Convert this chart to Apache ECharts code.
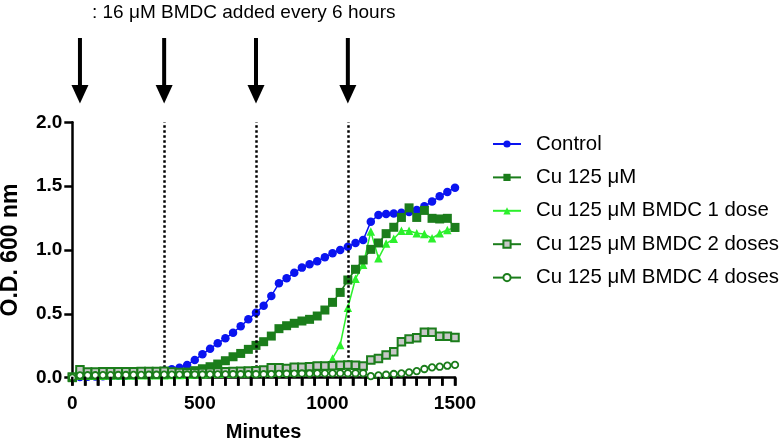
<!DOCTYPE html>
<html>
<head>
<meta charset="utf-8">
<script src="https://cdn.jsdelivr.net/npm/echarts@6/dist/echarts.min.js"></script>
<style>
html,body{margin:0;padding:0;background:#fff;}
#chart{width:780px;height:440px;}
</style>
</head>
<body>
<div id="chart"></div>
<script>
// ---- data ----
var times = [0,30,60,90,120,150,180,210,240,270,300,330,360,390,420,450,480,510,540,570,600,630,660,690,720,750,780,810,840,870,900,930,960,990,1020,1050,1080,1110,1140,1170,1200,1230,1260,1290,1320,1350,1380,1410,1440,1470,1500];

var control = [0.0,0.005,0.007,0.01,0.012,0.014,0.016,0.018,0.02,0.027,0.034,0.045,0.055,0.066,0.078,0.1,0.139,0.183,0.227,0.269,0.308,0.352,0.403,0.457,0.509,0.564,0.64,0.739,0.778,0.822,0.862,0.888,0.911,0.943,0.974,1.0,1.026,1.055,1.078,1.222,1.274,1.282,1.285,1.292,1.298,1.313,1.342,1.379,1.42,1.454,1.488];

var cu125 = [0.0,0.02,0.022,0.022,0.023,0.023,0.024,0.024,0.025,0.025,0.026,0.027,0.028,0.03,0.035,0.044,0.055,0.07,0.086,0.107,0.133,0.164,0.19,0.222,0.253,0.282,0.326,0.384,0.407,0.426,0.444,0.457,0.483,0.53,0.59,0.668,0.765,0.849,0.922,1.005,1.055,1.128,1.178,1.255,1.33,1.255,1.31,1.248,1.243,1.248,1.177];

var dose1 = [0.0,0.015,0.015,0.016,0.016,0.017,0.017,0.018,0.018,0.019,0.019,0.02,0.02,0.021,0.022,0.024,0.026,0.027,0.028,0.03,0.031,0.032,0.034,0.035,0.037,0.038,0.04,0.041,0.042,0.044,0.045,0.046,0.048,0.066,0.151,0.256,0.548,0.775,0.885,1.144,0.935,1.05,1.088,1.151,1.151,1.131,1.125,1.092,1.131,1.157,1.175];

var dose2 = [0.005,0.062,0.045,0.045,0.046,0.046,0.047,0.047,0.047,0.048,0.048,0.048,0.05,0.045,0.04,0.038,0.038,0.04,0.042,0.044,0.046,0.048,0.05,0.053,0.055,0.06,0.078,0.078,0.073,0.081,0.081,0.086,0.091,0.091,0.094,0.097,0.099,0.097,0.091,0.138,0.151,0.178,0.204,0.282,0.303,0.313,0.355,0.355,0.325,0.325,0.315];

var dose4 = [0.0,0.018,0.019,0.019,0.02,0.02,0.021,0.021,0.022,0.022,0.023,0.023,0.024,0.024,0.024,0.025,0.025,0.025,0.026,0.026,0.026,0.027,0.027,0.027,0.027,0.027,0.028,0.03,0.031,0.032,0.033,0.033,0.034,0.034,0.034,0.035,0.035,0.035,0.035,0.012,0.018,0.023,0.029,0.034,0.042,0.052,0.068,0.081,0.086,0.094,0.1];

var seriesNames = ['Control','Cu 125 \u03bcM','Cu 125 \u03bcM BMDC 1 dose','Cu 125 \u03bcM BMDC 2 doses','Cu 125 \u03bcM BMDC 4 doses'];
var doseLines = [360,720,1080];
var arrowTimes = [30,360,720,1080];
var topNote = ': 16 \u03bcM BMDC added every 6 hours';
var xLabelStep = 500;   // labelled x ticks: 0, 500, 1000, 1500
var xTickStep = 50;     // small x ticks every 50 min
var xMax = 1500;

// ---- styling ----
var FONT = 'Liberation Sans, Arial, sans-serif';
var BLUE = '#0a14f0';
var DKGREEN = '#1b7d1b';
var LTGREEN = '#2cf02c';

function pairs(vals){ return times.map(function(t,i){ return [t, vals[i]]; }); }

var chart = echarts.init(document.getElementById('chart'), null, {renderer:'canvas'});

var option = {
  animation:false,
  backgroundColor:'#fff',
  textStyle:{fontFamily:FONT},
  grid:{left:72.3, right:325, top:122.3, bottom:62.3, containLabel:false, outerBoundsMode:'none'},
  title:{
    text: topNote, left:92, top:3, padding:0,
    textStyle:{fontFamily:FONT, fontSize:19, fontWeight:'normal', color:'#000'}
  },
  legend:{
    orient:'vertical', left:492, top:134, padding:0,
    itemWidth:28, itemHeight:9, itemGap:13.4,
    selectedMode:false,
    textStyle:{fontFamily:FONT, fontSize:20.4, color:'#000', lineHeight:20, padding:[0,0,0,10]},
    data: seriesNames
  },
  xAxis:{
    type:'value', min:0, max:xMax, interval:xTickStep,
    name:'Minutes', nameLocation:'middle', nameGap:45,
    nameTextStyle:{fontFamily:FONT, fontSize:20, fontWeight:'bold', color:'#000'},
    axisLine:{show:true, onZero:false, lineStyle:{color:'#000', width:2.5}},
    axisTick:{show:true, length:8, lineStyle:{color:'#000', width:2.5}},
    splitLine:{show:false},
    axisLabel:{fontFamily:FONT, fontSize:19, fontWeight:'bold', color:'#000', margin:17,
      hideOverlap:false,
      formatter:function(v){ return (Math.round(v) % xLabelStep === 0) ? String(Math.round(v)) : ''; }}
  },
  yAxis:{
    type:'value', min:0, max:2, interval:0.5,
    name:'O.D. 600 nm', nameLocation:'middle', nameGap:50, nameRotate:90,
    nameTextStyle:{fontFamily:FONT, fontSize:23, fontWeight:'bold', color:'#000'},
    axisLine:{show:true, onZero:false, lineStyle:{color:'#000', width:2.5}},
    axisTick:{show:true, length:8, lineStyle:{color:'#000', width:2.5}},
    splitLine:{show:false},
    axisLabel:{fontFamily:FONT, fontSize:19, fontWeight:'bold', color:'#000', margin:10,
      formatter:function(v){ return v.toFixed(1); }}
  },
  series:[
    {
      name:seriesNames[0], type:'line', data:pairs(control), z:2,
      symbol:'circle', symbolSize:8.5, showAllSymbol:true,
      lineStyle:{color:BLUE, width:1.5},
      itemStyle:{color:BLUE, borderWidth:0},
      emphasis:{disabled:true},
      markLine:{
        silent:true, symbol:['none','none'], label:{show:false},
        lineStyle:{color:'#000', type:[2.5,2.5], width:2.5},
        data: doseLines.map(function(t){ return {xAxis:t}; })
      }
    },
    {
      name:seriesNames[1], type:'line', data:pairs(cu125), z:4,
      symbol:'rect', symbolSize:9, showAllSymbol:true,
      lineStyle:{color:DKGREEN, width:1.5},
      itemStyle:{color:DKGREEN, borderWidth:0},
      emphasis:{disabled:true}
    },
    {
      name:seriesNames[2], type:'line', data:pairs(dose1), z:3,
      symbol:'triangle', symbolSize:8.5, showAllSymbol:true,
      lineStyle:{color:LTGREEN, width:1.5},
      itemStyle:{color:LTGREEN, borderWidth:0},
      emphasis:{disabled:true}
    },
    {
      name:seriesNames[3], type:'line', data:pairs(dose2), z:5,
      symbol:'rect', symbolSize:7.5, showAllSymbol:true,
      lineStyle:{color:DKGREEN, width:1.5},
      itemStyle:{color:'#c8c8c8', borderColor:DKGREEN, borderWidth:2},
      emphasis:{disabled:true}
    },
    {
      name:seriesNames[4], type:'line', data:pairs(dose4), z:6,
      symbol:'circle', symbolSize:6.5, showAllSymbol:true,
      lineStyle:{color:DKGREEN, width:1.5},
      itemStyle:{color:'#fff', borderColor:DKGREEN, borderWidth:1.8},
      emphasis:{disabled:true}
    }
  ]
};

chart.setOption(option);

// arrows above plot, placed through the x axis scale
var arrowTop = 38, headBase = 85, tip = 103.5, shaftW = 4, headW = 17;
var graphics = arrowTimes.map(function(t){
  var x = chart.convertToPixel({xAxisIndex:0}, t);
  return {
    type:'group', silent:true,
    children:[
      {type:'rect', shape:{x:x-shaftW/2, y:arrowTop, width:shaftW, height:headBase-arrowTop+1}, style:{fill:'#000'}},
      {type:'polygon', shape:{points:[[x-headW/2, headBase],[x+headW/2, headBase],[x, tip]]}, style:{fill:'#000'}}
    ]
  };
});
// x-axis tick marks every 50 min, placed through the axis scale (own top layer)
var yBase = chart.convertToPixel({yAxisIndex:0}, 0);
for (var tk = 0; tk <= xMax; tk += xTickStep) {
  var tx = chart.convertToPixel({xAxisIndex:0}, tk);
  graphics.push({type:'rect', silent:true, z:100, zlevel:1,
    shape:{x:tx-1.25, y:yBase-1, width:2.5, height:9},
    style:{fill:'#000'}});
}
chart.setOption({graphic:graphics});
</script>
</body>
</html>
